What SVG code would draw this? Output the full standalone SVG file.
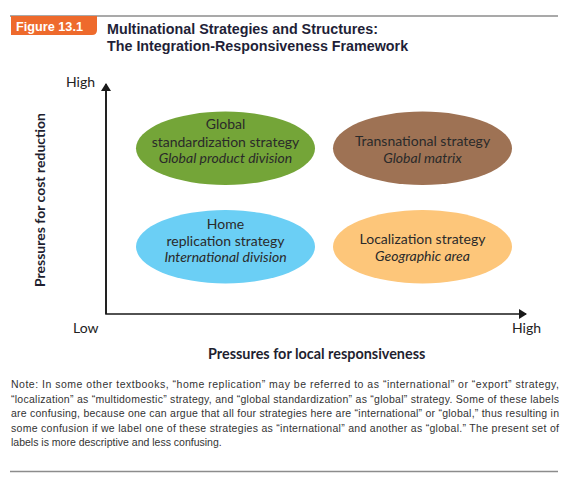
<svg xmlns="http://www.w3.org/2000/svg" width="568" height="481" viewBox="0 0 568 481">
<style>
.ttl{font-family:"Liberation Sans",Arial,sans-serif;font-weight:bold;font-size:14.3px;fill:#1f1f38}
.fig{font-family:"Liberation Sans",Arial,sans-serif;font-weight:bold;font-size:12.7px;fill:#fff}
.ax{font-family:Lato,"Open Sans",sans-serif;font-size:14px;fill:#222}
.axt{font-family:Lato,"Open Sans",sans-serif;font-weight:bold;font-size:14.4px;fill:#1f1f30}
.nt{font-family:Lato,"Open Sans",sans-serif;font-size:14px;fill:#2a2a2a;text-anchor:middle}
.it{font-style:italic}
.note{font-family:"Liberation Sans",Arial,sans-serif;font-size:10.5px;fill:#333}
.rule{stroke:#8c8c8c;stroke-width:1.5}
.axis{stroke:#1a1a1a;stroke-width:1.6;fill:none}
</style>
<defs>
<marker id="arr" markerWidth="8" markerHeight="10" refX="7" refY="5" orient="auto" markerUnits="userSpaceOnUse">
<path d="M0,0 L8,5 L0,10 Z" fill="#1a1a1a"/>
</marker>
</defs>
<g id="header">
<line class="rule" x1="10" y1="16" x2="558" y2="16"/>
<path d="M11,16 H97 V30 Q97,35 92,35 H11 Z" fill="#ee6a2c"/>
<text class="fig" x="16" y="30.5">Figure 13.1</text>
<text class="ttl" x="107" y="34">Multinational Strategies and Structures:</text>
<text class="ttl" x="107" y="51">The Integration-Responsiveness Framework</text>
</g>
<g id="connectors">
<polyline class="axis" points="106,85 106,314 526,314" marker-end="url(#arr)"/>
<line class="axis" x1="106" y1="314" x2="106" y2="84" marker-end="url(#arr)"/>
</g>
<g id="axis-labels">
<text class="ax" x="66" y="87">High</text>
<text class="ax" x="73" y="333">Low</text>
<text class="ax" x="512" y="333">High</text>
<text class="axt" text-anchor="middle" transform="translate(44.5,200) rotate(-90)" style="font-size:14px">Pressures for cost reduction</text>
<text class="axt" text-anchor="middle" x="316.7" y="359.3">Pressures for local responsiveness</text>
</g>
<g id="global-standardization">
<ellipse cx="225.5" cy="148.3" rx="89.5" ry="36.7" fill="#74a538"/>
<text class="nt" x="225.5" y="129">Global</text>
<text class="nt" x="225.5" y="146.5">standardization strategy</text>
<text class="nt it" x="225.5" y="163">Global product division</text>
</g>
<g id="transnational">
<ellipse cx="422.5" cy="148.3" rx="89.5" ry="36.7" fill="#9e7254"/>
<text class="nt" x="422.5" y="146">Transnational strategy</text>
<text class="nt it" x="422.5" y="162.5">Global matrix</text>
</g>
<g id="home-replication">
<ellipse cx="225.5" cy="246.7" rx="89.5" ry="36.7" fill="#6bcff5"/>
<text class="nt" x="225.5" y="228.5">Home</text>
<text class="nt" x="225.5" y="246">replication strategy</text>
<text class="nt it" x="225.5" y="261.5">International division</text>
</g>
<g id="localization">
<ellipse cx="422.5" cy="246.7" rx="89.5" ry="36.7" fill="#fdc67a"/>
<text class="nt" x="422.5" y="243.5">Localization strategy</text>
<text class="nt it" x="422.5" y="260.5">Geographic area</text>
</g>
<g id="note">
<text class="note" x="11" y="388" textLength="548" lengthAdjust="spacing">Note: In some other textbooks, “home replication” may be referred to as “international” or “export” strategy,</text>
<text class="note" x="11" y="402.5" textLength="548" lengthAdjust="spacing">“localization” as “multidomestic” strategy, and “global standardization” as “global” strategy. Some of these labels</text>
<text class="note" x="11" y="417" textLength="548" lengthAdjust="spacing">are confusing, because one can argue that all four strategies here are “international” or “global,” thus resulting in</text>
<text class="note" x="11" y="431.5" textLength="548" lengthAdjust="spacing">some confusion if we label one of these strategies as “international” and another as “global.” The present set of</text>
<text class="note" x="11" y="446">labels is more descriptive and less confusing.</text>
<line class="rule" x1="10" y1="471.5" x2="558" y2="471.5"/>
</g>
</svg>
